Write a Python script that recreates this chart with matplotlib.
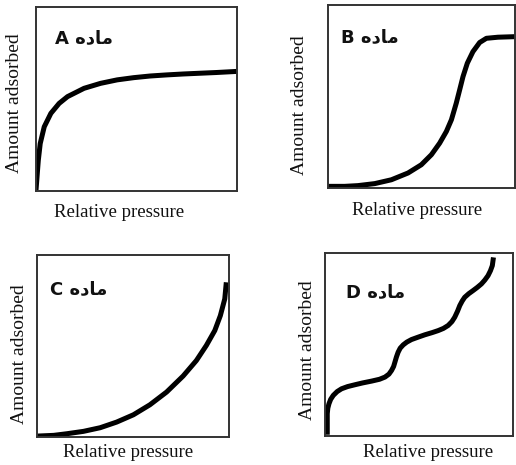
import matplotlib
matplotlib.use('Agg')
import matplotlib.pyplot as plt

a_x = [0.0, 0.006, 0.0115, 0.021, 0.041, 0.074, 0.115, 0.157, 0.239, 0.321, 0.404,
       0.486, 0.568, 0.651, 0.733, 0.815, 0.898, 1.0]
a_y = [0.004, 0.09, 0.167, 0.258, 0.349, 0.422, 0.476, 0.513, 0.558, 0.585, 0.604,
       0.616, 0.625, 0.631, 0.636, 0.64, 0.644, 0.65]

b_x = [0.0, 0.089, 0.16, 0.25, 0.339, 0.428, 0.499, 0.553, 0.597, 0.633, 0.66, 0.686,
       0.704, 0.722, 0.745, 0.775, 0.811, 0.847, 0.909, 1.0]
b_y = [0.009, 0.009, 0.013, 0.024, 0.045, 0.082, 0.127, 0.182, 0.245, 0.309, 0.373,
       0.464, 0.536, 0.609, 0.682, 0.745, 0.795, 0.818, 0.824, 0.827]

c_x = [0.0, 0.087, 0.156, 0.242, 0.329, 0.415, 0.502, 0.588, 0.675, 0.761, 0.83,
       0.882, 0.926, 0.955, 0.978, 0.986]
c_y = [0.005, 0.009, 0.018, 0.031, 0.051, 0.082, 0.122, 0.177, 0.247, 0.335, 0.42,
       0.503, 0.585, 0.667, 0.759, 0.85]

d_x = [0.012, 0.012, 0.015, 0.021, 0.03, 0.044, 0.065, 0.088, 0.12, 0.159, 0.2, 0.248,
       0.29, 0.319, 0.34, 0.354, 0.365, 0.372, 0.38, 0.389, 0.4, 0.416, 0.435, 0.46,
       0.495, 0.531, 0.57, 0.602, 0.63, 0.655, 0.675, 0.69, 0.705, 0.717, 0.73, 0.743,
       0.765, 0.788, 0.81, 0.832, 0.85, 0.867, 0.88, 0.89, 0.896]
d_y = [0.007, 0.122, 0.152, 0.176, 0.2, 0.222, 0.243, 0.258, 0.27, 0.28, 0.29, 0.3,
       0.31, 0.322, 0.338, 0.358, 0.38, 0.404, 0.432, 0.458, 0.48, 0.498, 0.513, 0.527,
       0.54, 0.553, 0.565, 0.576, 0.588, 0.604, 0.625, 0.649, 0.682, 0.713, 0.738,
       0.758, 0.778, 0.795, 0.812, 0.831, 0.852, 0.876, 0.903, 0.931, 0.976]

names = ['A', 'B', 'C', 'D']
# "ماده" in presentation forms, visual order (matplotlib has no Arabic shaping)
word = '\uFEE9\uFEA9\uFE8E\uFEE3'

W, H = 516, 465
fig = plt.figure(figsize=(W / 100, H / 100), dpi=100)

# boxes in pixels: left, top, right, bottom
boxes = [(36, 7, 237, 191), (328, 5, 515, 188), (37, 255, 229, 437), (325, 253, 513, 436)]
xlab = [(119, 212), (417, 210), (128, 452), (428, 452)]
ylab = [(15, 103), (300, 105), (20, 354), (308, 350)]
tag = [(55, 38), (341, 37), (50, 289), (346, 292)]
curves = [(a_x, a_y), (b_x, b_y), (c_x, c_y), (d_x, d_y)]

for i in range(4):
    l, t, r, b = boxes[i]
    ax = fig.add_axes([l / W, 1 - b / H, (r - l) / W, (b - t) / H])
    ax.plot(curves[i][0], curves[i][1], color='black', lw=3.6,
            solid_joinstyle='round', solid_capstyle='butt')
    ax.set_xlim(0, 1)
    ax.set_ylim(0, 1)
    ax.set_xticks([])
    ax.set_yticks([])
    for s in ax.spines.values():
        s.set_linewidth(1.4)
        s.set_color('#333333')
    fig.text(xlab[i][0] / W, 1 - xlab[i][1] / H, 'Relative pressure', ha='center',
             va='center', fontsize=13.6, family='Liberation Serif', color='#111111')
    fig.text(ylab[i][0] / W, 1 - ylab[i][1] / H, 'Amount adsorbed', ha='center',
             va='center', rotation=90, fontsize=14, family='Liberation Serif',
             color='#111111')
    fig.text(tag[i][0] / W, 1 - tag[i][1] / H, names[i] + ' ' + word, ha='left',
             va='center', fontsize=13, fontweight='bold', family='DejaVu Sans',
             color='#111111')

fig.savefig('out.png', dpi=100)
